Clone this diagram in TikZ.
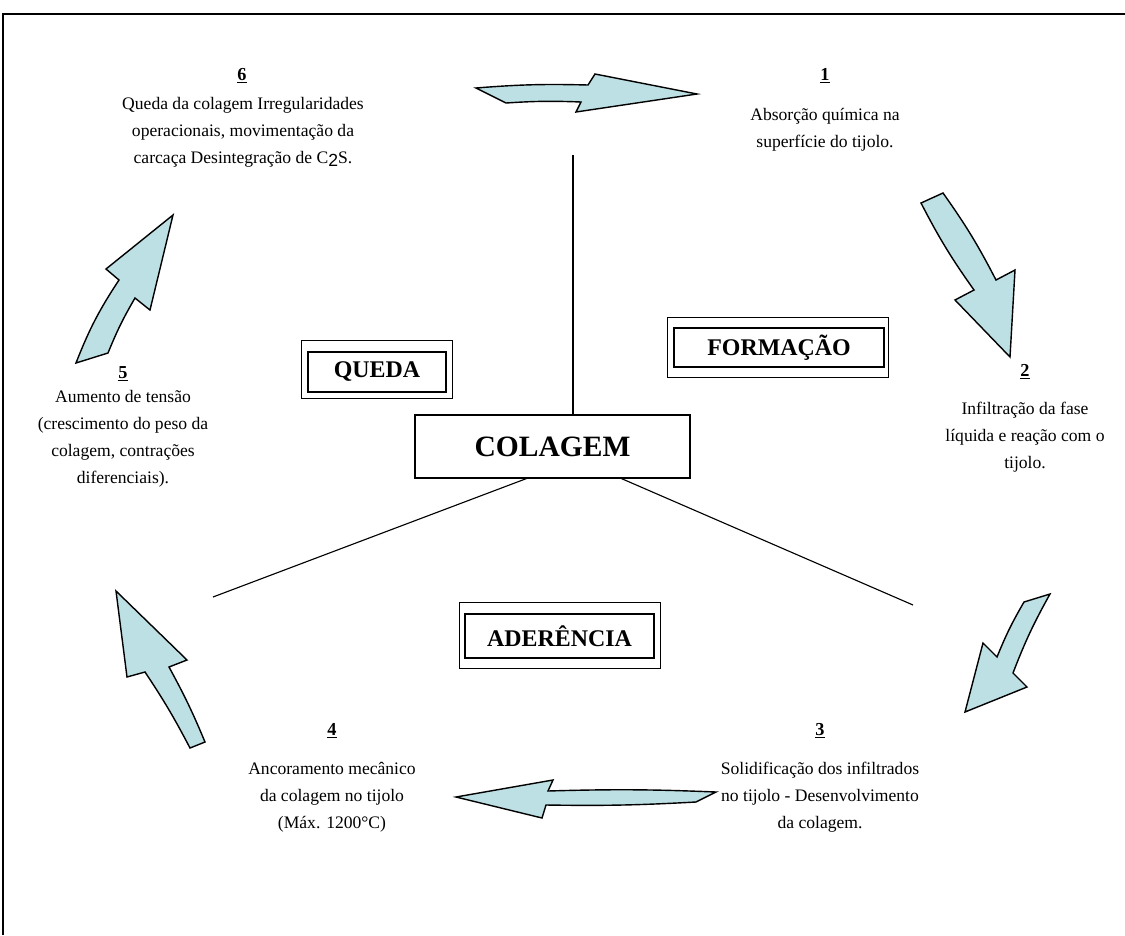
\documentclass[tikz,border=0pt]{standalone}
\usepackage{fontspec}
\setmainfont{Liberation Serif}
\newfontfamily\subsans{Liberation Sans}
\definecolor{arrowfill}{RGB}{189,224,228}

\tikzset{
  blockarrow/.style={draw, line width=1pt, fill=arrowfill, line join=miter},
  stage/.style={align=center, inner sep=0pt, anchor=north, font=\fontsize{12.5}{19.2}\selectfont},
  stagenum/.style={inner sep=0pt, anchor=base, font=\fontsize{13}{15}\selectfont\bfseries},
  phase/.style={draw, line width=1pt, inner sep=0pt, font=\fontsize{17}{20}\selectfont\bfseries},
  phaseframe/.style={draw, line width=0.6pt},
}

\begin{document}
\begin{tikzpicture}[x=0.025cm, y=-0.025cm]
  \useasboundingbox (0,0) rectangle (1125,935);
  \draw[line width=1pt] (3,935) -- (3,14) -- (1125,14);

  \node[draw, line width=0.8pt, minimum width=6.875cm, minimum height=1.575cm,
        font=\fontsize{21}{24}\selectfont\bfseries] (col) at (552.5,446.5) {COLAGEM};

  \node[phase, minimum width=3.45cm, minimum height=1cm] (queda) at (377,372) {QUEDA};
  \node[phase, minimum width=5.25cm, minimum height=0.975cm] (formacao) at (779,347.5) {FORMAÇÃO};
  \node[phase, minimum width=4.725cm, minimum height=1.1cm] (aderencia) at (559.5,636) {ADERÊNCIA};
  \draw[phaseframe] ([shift={(-6,-11)}]queda.north west) rectangle ([shift={(6,6)}]queda.south east);
  \draw[phaseframe] ([shift={(-6,-10)}]formacao.north west) rectangle ([shift={(4,10)}]formacao.south east);
  \draw[phaseframe] ([shift={(-5,-11)}]aderencia.north west) rectangle ([shift={(6,10)}]aderencia.south east);

  \node[stagenum] (n1) at (825,80) {\underline{1}};
  \node[stage] (t1) at (825,108) {Absorção química na\\superfície do tijolo.};
  \node[stagenum] (n2) at (1025,376) {\underline{2}};
  \node[stage] (t2) at (1025,402) {Infiltração da fase\\líquida e reação com o\\tijolo.};
  \node[stagenum] (n3) at (820,735) {\underline{3}};
  \node[stage] (t3) at (820,762) {Solidificação dos infiltrados\\no tijolo - Desenvolvimento\\da colagem.};
  \node[stagenum] (n4) at (332,735) {\underline{4}};
  \node[stage] (t4) at (332,762) {Ancoramento mecânico\\da colagem no tijolo\\(Máx. 1200°C)};
  \node[stagenum] (n5) at (123,378) {\underline{5}};
  \node[stage] (t5) at (123,390) {Aumento de tensão\\(crescimento do peso da\\colagem, contrações\\diferenciais).};
  \node[stagenum] (n6) at (242,80) {\underline{6}};
  \node[stage] (t6) at (243,97) {Queda da colagem Irregularidades\\operacionais, movimentação da\\carcaça Desintegração de C{\subsans\raisebox{-2pt}{2}}S.};

  % spokes
  \coordinate (vtop) at (573,155);
  \coordinate (lfoot) at (213,597);
  \coordinate (rfoot) at (913,605);
  \draw[line width=0.8pt] (vtop) -- (vtop |- col.north);
  \draw[line width=0.8pt] ([xshift=2.8cm]col.south west) -- (lfoot);
  \draw[line width=0.8pt] ([xshift=5.175cm]col.south west) -- (rfoot);

  % cycle arrows
  \draw[blockarrow] (476,88) to[bend left=3] (588,85) -- (595,74) -- (697,94)
    -- (576,112) -- (581,102) to[bend right=3] (506,103) -- cycle;
  \draw[blockarrow] (921,203) -- (943,193) to[bend left=4] (996,280) -- (1015,270)
    -- (1010,357) -- (955,300) -- (974,290) to[bend left=4] cycle;
  \draw[blockarrow] (1024,602) to[bend right=4] (997,657) -- (983,643) -- (965,712)
    -- (1027,687) -- (1013,673) to[bend left=4] (1050,594) -- cycle;
  \draw[blockarrow] (456,797) -- (553,780) -- (548,791) to[bend left=2] (716,792)
    -- (696,802) to[bend left=2] (546,805) -- (542,818) -- cycle;
  \draw[blockarrow] (116,591) -- (187,660) -- (169,667) to[bend left=3] (205,742)
    -- (190,748) to[bend right=3] (145,672) -- (127,677) -- cycle;
  \draw[blockarrow] (173,215) -- (150,310) -- (135,298) to[bend right=4] (108,353)
    -- (76,363) to[bend left=6] (119,280) -- (106,269) -- cycle;
\end{tikzpicture}
\end{document}
